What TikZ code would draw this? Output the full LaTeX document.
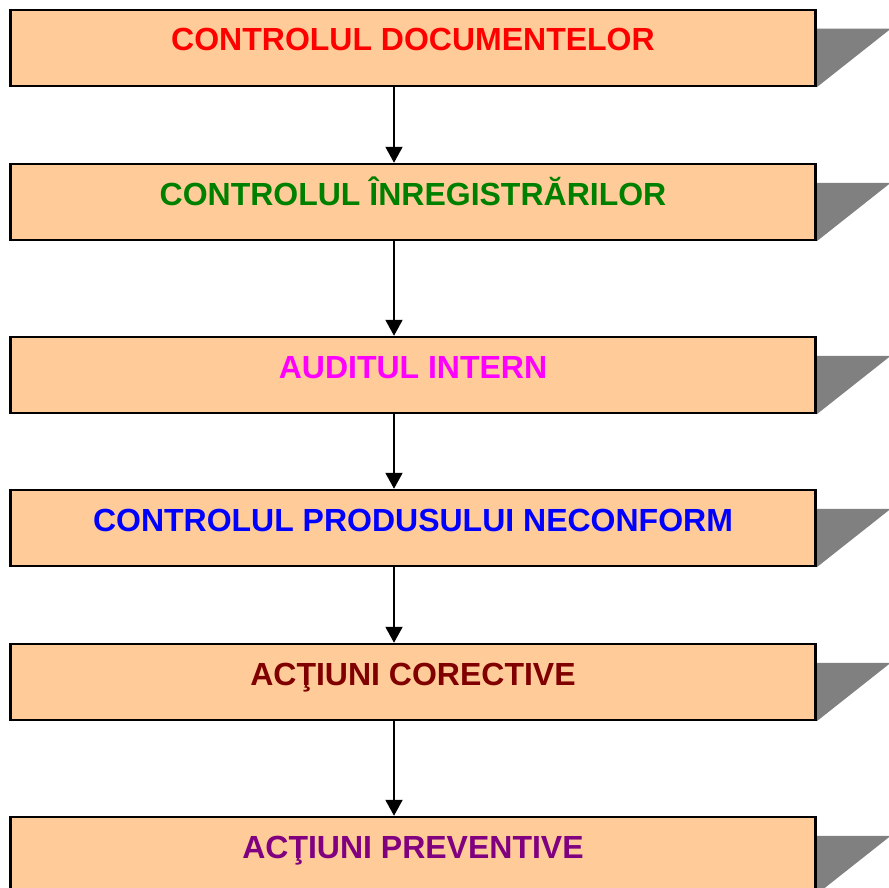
\documentclass[tikz,border=0pt]{standalone}
\usepackage{fontspec}
\setmainfont{Liberation Sans}
\usetikzlibrary{arrows.meta,backgrounds}
\definecolor{peach}{HTML}{FFCC99}
\definecolor{textred}{HTML}{FF0000}
\definecolor{textgreen}{HTML}{008000}
\definecolor{textmagenta}{HTML}{FF00FF}
\definecolor{textblue}{HTML}{0000FF}
\definecolor{darkred}{HTML}{800000}
\definecolor{darkpurple}{HTML}{800080}
\begin{document}
\begin{tikzpicture}[x=1pt,y=-1pt]
\tikzset{box/.style={draw, line width=2.5pt, fill=peach, rectangle, minimum width=805pt, minimum height=76pt, inner sep=0pt, font=\fontsize{32}{38}\selectfont\bfseries, text height=23pt, text depth=17pt}}
\useasboundingbox (0,0) rectangle (888,888);
\clip (0,0) rectangle (888,888);
\node[box, text=textred] (1) at (413,48) {CONTROLUL DOCUMENTELOR};
\node[box, text=textgreen] (2) at (413,202) {CONTROLUL ÎNREGISTRĂRILOR};
\node[box, text=textmagenta] (3) at (413,375) {AUDITUL INTERN};
\node[box, text=textblue] (4) at (413,528) {CONTROLUL PRODUSULUI NECONFORM};
\node[box, text=darkred] (5) at (413,682) {ACŢIUNI CORECTIVE};
\node[box, text=darkpurple] (6) at (413,855) {ACŢIUNI PREVENTIVE};

\begin{scope}[on background layer]
\fill[gray] ([yshift=-20pt]1.north east) -- ++(74,0) -- (1.south east) -- cycle;
\fill[gray] ([yshift=-20pt]2.north east) -- ++(74,0) -- (2.south east) -- cycle;
\fill[gray] ([yshift=-20pt]3.north east) -- ++(74,0) -- (3.south east) -- cycle;
\fill[gray] ([yshift=-20pt]4.north east) -- ++(74,0) -- (4.south east) -- cycle;
\fill[gray] ([yshift=-20pt]5.north east) -- ++(74,0) -- (5.south east) -- cycle;
\fill[gray] ([yshift=-20pt]6.north east) -- ++(74,0) -- (6.south east) -- cycle;
\end{scope}

\path[draw,line width=2pt,-{Triangle[length=16pt,width=17pt]}] ([xshift=-19pt]1.south) -- ([xshift=-19pt]2.north);
\path[draw,line width=2pt,-{Triangle[length=16pt,width=17pt]}] ([xshift=-19pt]2.south) -- ([xshift=-19pt]3.north);
\path[draw,line width=2pt,-{Triangle[length=16pt,width=17pt]}] ([xshift=-19pt]3.south) -- ([xshift=-19pt]4.north);
\path[draw,line width=2pt,-{Triangle[length=16pt,width=17pt]}] ([xshift=-19pt]4.south) -- ([xshift=-19pt]5.north);
\path[draw,line width=2pt,-{Triangle[length=16pt,width=17pt]}] ([xshift=-19pt]5.south) -- ([xshift=-19pt]6.north);
\end{tikzpicture}
\end{document}
